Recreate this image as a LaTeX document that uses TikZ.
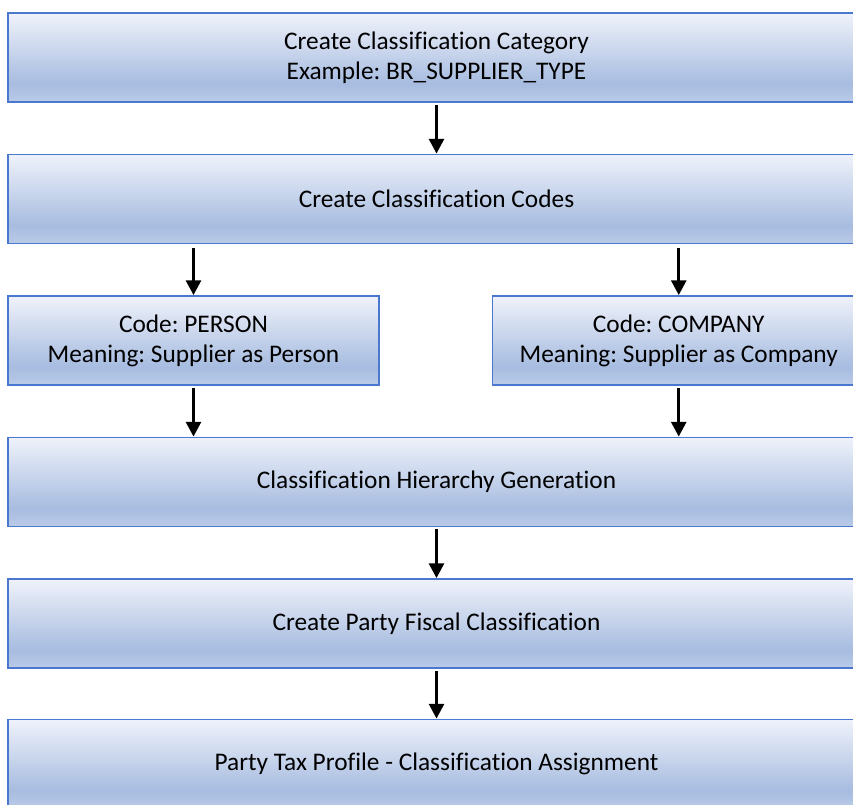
\documentclass[tikz,border=0pt]{standalone}
\usepackage{fontspec}
\setmainfont{Carlito}[Ligatures={NoCommon,NoRare}]
\frenchspacing
\usetikzlibrary{arrows.meta}
\definecolor{boxline}{HTML}{4A78CF}
\definecolor{shadetop}{HTML}{EFF2FA}
\definecolor{shademid}{HTML}{A7BCE0}
\definecolor{shadebot}{HTML}{BBCBE8}
\pgfdeclareverticalshading{boxshade}{100bp}{color(0bp)=(shadebot); color(25bp)=(shadebot); color(35bp)=(shademid); color(75bp)=(shadetop); color(100bp)=(shadetop)}
\begin{document}
\begin{tikzpicture}[x=0.75pt,y=-0.75pt]
\tikzstyle{every node}+=[font=\fontsize{19}{22.5}\selectfont]
\tikzstyle{procbox}=[draw=boxline, line width=1.3pt, shading=boxshade, align=center, minimum height=66.75pt, inner sep=0pt]
\tikzstyle{flow}=[line width=2.4pt, shorten <=1.5pt, -{Triangle[width=11pt,length=11pt]}]
\useasboundingbox (0,0) rectangle (853,804);
\clip (0,0) rectangle (853,804);
% steps of the set-up
\node [procbox, minimum width=642.75pt] (cat) at (436.5,57.5) {Create Classification Category\\Example: BR\_SUPPLIER\_TYPE};
\node [procbox, minimum width=642.75pt] (codes) at (436.5,199) {Create Classification Codes};
\node [procbox, minimum width=278.25pt] (person) at (193.5,340.5) {Code: PERSON\\Meaning: Supplier as Person};
\node [procbox, minimum width=279.4pt] (company) at (678.75,340.5) {Code: COMPANY\\Meaning: Supplier as Company};
\node [procbox, minimum width=642.75pt] (hier) at (436.5,482) {Classification Hierarchy Generation};
\node [procbox, minimum width=642.75pt] (fiscal) at (436.5,623.5) {Create Party Fiscal Classification};
\node [procbox, minimum width=642.75pt] (profile) at (436.5,764) {Party Tax Profile - Classification Assignment};
% arrows
\draw [flow] (cat) -- (codes);
\draw [flow, shorten <=3pt] (codes.south -| person) -- (person);
\draw [flow, shorten <=3pt] (codes.south -| company) -- (company);
\draw [flow] (person) -- (hier.north -| person);
\draw [flow] (company) -- (hier.north -| company);
\draw [flow] (hier) -- (fiscal);
\draw [flow] (fiscal) -- (profile);
\end{tikzpicture}
\end{document}
